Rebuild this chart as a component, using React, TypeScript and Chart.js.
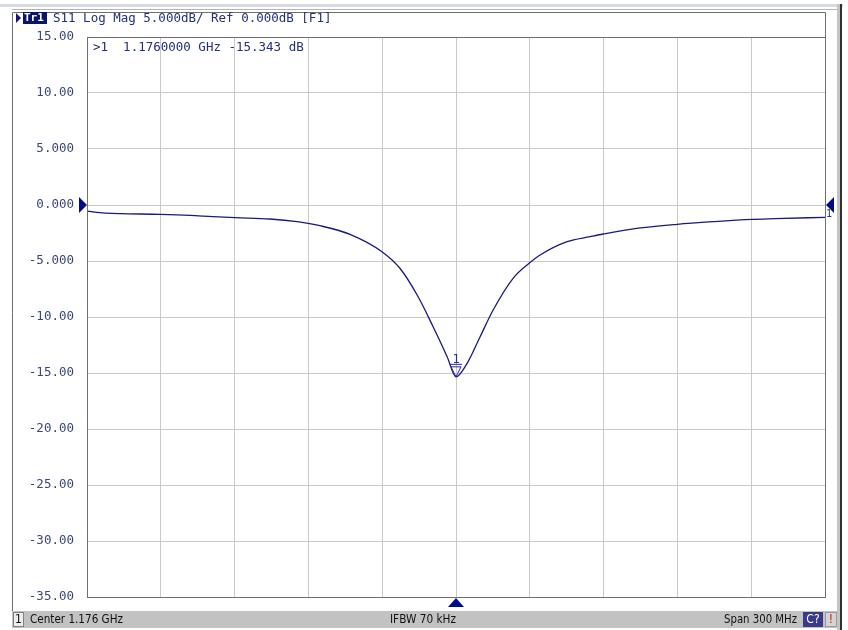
import React, { useEffect, useRef } from "react";
import { Chart, registerables } from "chart.js";

Chart.register(...registerables);

// ---- data ----
const CENTER_GHZ = 1.176;
const SPAN_MHZ = 300;

const FREQ_GHZ = [
  1.026, 1.0333, 1.0557, 1.0679, 1.0772, 1.0862, 1.1004, 1.1114, 1.1207,
  1.1329, 1.1459, 1.1532, 1.1606, 1.1667, 1.1724, 1.176, 1.1805, 1.1858,
  1.1911, 1.1992, 1.2057, 1.2102, 1.2212, 1.2305, 1.2358, 1.2468, 1.2659,
  1.2805, 1.2964, 1.3057, 1.326,
];
const S11_DB = [
  -0.54, -0.72, -0.83, -0.92, -1.04, -1.13, -1.25, -1.49, -1.85,
  -2.62, -4.17, -5.65, -8.19, -10.87, -13.54, -15.343, -14.14, -11.76,
  -9.38, -6.55, -5.21, -4.46, -3.27, -2.83, -2.59, -2.17, -1.73,
  -1.49, -1.28, -1.22, -1.1,
];

const Y_TICKS = [15, 10, 5, 0, -5, -10, -15, -20, -25, -30, -35];
const Y_TICK_LABELS = [
  "15.00", "10.00", "5.000", "0.000", "-5.000", "-10.00",
  "-15.00", "-20.00", "-25.00", "-30.00", "-35.00",
];

const MARKER_FREQ_GHZ = 1.176;
const MARKER_DB = -15.343;
const REF_LEVEL_DB = 0;

const HEADER_TRACE = "Tr1";
const HEADER_TEXT = "S11 Log Mag 5.000dB/ Ref 0.000dB [F1]";
const MARKER_TEXT = ">1  1.1760000 GHz -15.343 dB";
const STATUS_CH = "1";
const STATUS_LEFT = "Center 1.176 GHz";
const STATUS_MID = "IFBW 70 kHz";
const STATUS_RIGHT = "Span 300 MHz";
const STATUS_CAL = "C?";
const STATUS_WARN = "!";

// ---- styling ----
const NAVY = "#14147a";
const TEXT_NAVY = "#24307a";
const GRID = "#c9c9c9";
const FRAME = "#6f6f6f";
const MONO = "'DejaVu Sans Mono', 'Liberation Mono', monospace";
const NARROW = "'Liberation Sans Narrow', 'DejaVu Sans Condensed', 'Liberation Sans', sans-serif";

const toX = (ghz: number) => (ghz - CENTER_GHZ) * 1000;

const decorPlugin = {
  id: "vnaDecor",
  beforeDraw(chart: any) {
    const { ctx, width, height } = chart;
    ctx.save();
    ctx.fillStyle = "#ffffff";
    ctx.fillRect(0, 0, width, height);
    ctx.restore();
  },
  afterDraw(chart: any) {
    const ctx: CanvasRenderingContext2D = chart.ctx;
    const xs = chart.scales.x;
    const ys = chart.scales.y;
    const ca = chart.chartArea;
    ctx.save();

    // outer panel bevel
    ctx.fillStyle = "#d5d9e2";
    ctx.fillRect(0, 4, 843, 3);
    ctx.fillStyle = "#b4b4b4";
    ctx.fillRect(12, 9, 827, 1);
    ctx.fillStyle = "#c4c4c4";
    ctx.fillRect(837, 4, 3, 626);
    ctx.fillStyle = "#303030";
    ctx.fillRect(840, 4, 2, 626);

    // inner frame
    ctx.strokeStyle = FRAME;
    ctx.lineWidth = 1;
    ctx.beginPath();
    ctx.moveTo(12.5, 612);
    ctx.lineTo(12.5, 12.5);
    ctx.lineTo(825.5, 12.5);
    ctx.lineTo(825.5, 598);
    ctx.stroke();

    // plot frame
    const L = Math.round(ca.left) + 0.5;
    const T = Math.round(ca.top) + 0.5;
    const R = Math.round(ca.right) + 0.5;
    const B = Math.round(ca.bottom) + 0.5;
    ctx.strokeStyle = FRAME;
    ctx.strokeRect(L, T, R - L, B - T);

    // header
    ctx.fillStyle = NAVY;
    ctx.beginPath();
    ctx.moveTo(16, 13);
    ctx.lineTo(21, 18);
    ctx.lineTo(16, 23);
    ctx.closePath();
    ctx.fill();
    ctx.fillStyle = "#0c1668";
    ctx.fillRect(23, 12, 24, 12);
    ctx.font = "bold 11px " + MONO;
    ctx.fillStyle = "#ffffff";
    ctx.textBaseline = "middle";
    ctx.textAlign = "left";
    ctx.fillText(HEADER_TRACE, 24, 18.5, 22);
    ctx.font = "12.5px " + MONO;
    ctx.fillStyle = TEXT_NAVY;
    ctx.fillText(HEADER_TEXT, 53, 18.5, 279);

    // marker readout
    ctx.fillText(MARKER_TEXT, 93, 47.5, 211);

    // reference level triangles
    const yRef = ys.getPixelForValue(REF_LEVEL_DB);
    ctx.fillStyle = "#000c86";
    ctx.beginPath();
    ctx.moveTo(79, yRef - 8);
    ctx.lineTo(87, yRef);
    ctx.lineTo(79, yRef + 8);
    ctx.closePath();
    ctx.fill();
    ctx.beginPath();
    ctx.moveTo(834, yRef - 8);
    ctx.lineTo(826, yRef);
    ctx.lineTo(834, yRef + 8);
    ctx.closePath();
    ctx.fill();

    // trace end label
    ctx.font = "10px " + MONO;
    ctx.fillStyle = "#3030a0";
    ctx.fillText("1", 826, yRef + 9);

    // center frequency triangle at bottom
    const xc = xs.getPixelForValue(toX(CENTER_GHZ));
    ctx.fillStyle = "#000c86";
    ctx.beginPath();
    ctx.moveTo(xc - 8, ca.bottom + 10);
    ctx.lineTo(xc, ca.bottom + 1);
    ctx.lineTo(xc + 8, ca.bottom + 10);
    ctx.closePath();
    ctx.fill();

    // marker 1 symbol
    const mx = xs.getPixelForValue(toX(MARKER_FREQ_GHZ));
    const my = ys.getPixelForValue(MARKER_DB);
    ctx.strokeStyle = "#2828a0";
    ctx.lineWidth = 1;
    ctx.beginPath();
    ctx.moveTo(mx - 5, my - 10);
    ctx.lineTo(mx + 5, my - 10);
    ctx.lineTo(mx, my);
    ctx.closePath();
    ctx.stroke();
    ctx.beginPath();
    ctx.moveTo(mx - 6, my - 12.5);
    ctx.lineTo(mx + 6, my - 12.5);
    ctx.stroke();
    ctx.font = "12px " + MONO;
    ctx.fillStyle = "#2828a0";
    ctx.textAlign = "center";
    ctx.textBaseline = "alphabetic";
    ctx.fillText("1", mx, my - 14);

    // status bar
    ctx.fillStyle = "#c2c2c2";
    ctx.fillRect(12, 611, 826, 17);
    ctx.fillStyle = "#ececec";
    ctx.fillRect(13, 612, 11, 15);
    ctx.strokeStyle = "#808080";
    ctx.strokeRect(13.5, 612.5, 10, 14);
    ctx.fillStyle = "#3a3a8c";
    ctx.fillRect(803, 612, 20, 15);
    ctx.fillStyle = "#d4d4d4";
    ctx.fillRect(825, 612, 12, 15);
    ctx.strokeStyle = "#9a9a9a";
    ctx.strokeRect(825.5, 612.5, 11, 14);

    ctx.font = "12px " + NARROW;
    ctx.textBaseline = "middle";
    ctx.fillStyle = "#111111";
    ctx.textAlign = "center";
    ctx.fillText(STATUS_CH, 18.5, 620, 9);
    ctx.textAlign = "left";
    ctx.fillText(STATUS_LEFT, 30, 620, 93);
    ctx.fillText(STATUS_MID, 390, 620, 66);
    ctx.textAlign = "right";
    ctx.fillText(STATUS_RIGHT, 797, 620, 73);
    ctx.textAlign = "center";
    ctx.fillStyle = "#ffffff";
    ctx.fillText(STATUS_CAL, 813, 620, 16);
    ctx.fillStyle = "#d01818";
    ctx.fillText(STATUS_WARN, 831, 620, 8);

    ctx.restore();
  },
};

export default function App() {
  const canvasRef = useRef<HTMLCanvasElement | null>(null);

  useEffect(() => {
    const canvas = canvasRef.current;
    if (!canvas) return;
    const points = FREQ_GHZ.map((f, i) => ({ x: toX(f), y: S11_DB[i] }));
    const half = SPAN_MHZ / 2;
    const chart = new Chart(canvas, {
      type: "line",
      data: {
        datasets: [
          {
            label: "S11",
            data: points,
            borderColor: "#1a1a7c",
            borderWidth: 1.3,
            pointRadius: 0,
            cubicInterpolationMode: "monotone",
            fill: false,
          },
        ],
      },
      options: {
        animation: false,
        responsive: false,
        devicePixelRatio: 1,
        layout: { padding: { left: 0, top: 37, right: 23, bottom: 33 } },
        plugins: {
          legend: { display: false },
          tooltip: { enabled: false },
          title: { display: false },
        },
        scales: {
          x: {
            type: "linear",
            min: -half,
            max: half,
            ticks: { display: false, stepSize: SPAN_MHZ / 10 },
            grid: { color: GRID, drawTicks: false, lineWidth: 1 },
            border: { display: true, color: FRAME },
            afterFit: (s: any) => {
              s.height = 0;
            },
          },
          y: {
            type: "linear",
            min: Y_TICKS[Y_TICKS.length - 1],
            max: Y_TICKS[0],
            ticks: {
              stepSize: 5,
              padding: 13,
              color: "#3b4676",
              font: { family: MONO, size: 12.5 },
              callback: (v: any) => {
                const i = Y_TICKS.indexOf(Number(v));
                return i >= 0 ? Y_TICK_LABELS[i] : "";
              },
            },
            grid: { color: GRID, drawTicks: false, lineWidth: 1 },
            border: { display: true, color: FRAME },
            afterFit: (s: any) => {
              s.width = 87;
            },
          },
        },
      },
      plugins: [decorPlugin],
    } as any);
    return () => chart.destroy();
  }, []);

  return (
    <div
      style={{
        position: "fixed",
        left: 0,
        top: 0,
        width: 848,
        height: 630,
        background: "#ffffff",
        overflow: "hidden",
      }}
    >
      <canvas ref={canvasRef} width={848} height={630} style={{ display: "block" }} />
    </div>
  );
}
